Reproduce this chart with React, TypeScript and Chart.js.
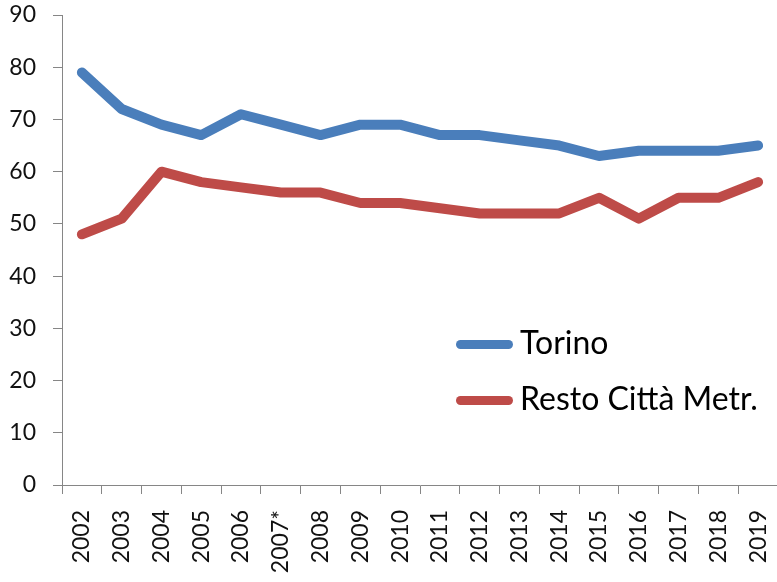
import React, { useEffect, useRef } from "react";
import { Chart, registerables } from "chart.js";

Chart.register(...registerables);

const years = [
  "2002", "2003", "2004", "2005", "2006", "2007*", "2008", "2009", "2010",
  "2011", "2012", "2013", "2014", "2015", "2016", "2017", "2018", "2019",
];
const torino = [79, 72, 69, 67, 71, 69, 67, 69, 69, 67, 67, 66, 65, 63, 64, 64, 64, 65];
const restoCittaMetr = [48, 51, 60, 58, 57, 56, 56, 54, 54, 53, 52, 52, 52, 55, 51, 55, 55, 58];
const seriesNames = ["Torino", "Resto Città Metr."];
const seriesColors = ["#4A7EBB", "#BE4B48"];
const yMin = 0;
const yMax = 90;
const yStep = 10;

const AXIS_COLOR = "#868686";
const TEXT_COLOR = "#111111";

export default function App() {
  const canvasRef = useRef<HTMLCanvasElement>(null);

  useEffect(() => {
    const canvas = canvasRef.current;
    if (!canvas) return;
    const seriesData = [torino, restoCittaMetr];
    const chart = new Chart(canvas, {
      type: "line",
      data: {
        labels: years,
        datasets: seriesNames.map((name, i) => ({
          label: name,
          data: seriesData[i],
          borderColor: seriesColors[i],
          backgroundColor: seriesColors[i],
          borderWidth: 10,
          borderCapStyle: "round" as const,
          borderJoinStyle: "round" as const,
          pointRadius: 0,
          pointHoverRadius: 0,
          tension: 0,
          fill: false,
        })),
      },
      options: {
        responsive: false,
        animation: false,
        devicePixelRatio: 1,
        layout: { padding: { left: 0, right: 0, top: 15, bottom: 0 } },
        plugins: {
          legend: { display: false },
          tooltip: { enabled: false },
        },
        scales: {
          x: {
            type: "category",
            offset: true,
            grid: {
              offset: true,
              drawOnChartArea: false,
              drawTicks: true,
              tickLength: 9,
              color: AXIS_COLOR,
              lineWidth: 1,
            },
            border: { display: true, color: AXIS_COLOR, width: 1 },
            ticks: {
              autoSkip: false,
              minRotation: 90,
              maxRotation: 90,
              padding: 16,
              color: TEXT_COLOR,
              font: { family: "Lato", size: 23 },
            },
            afterFit: (scale: any) => {
              scale.paddingLeft = 0;
              scale.paddingRight = 0;
              scale.height = 97;
            },
          },
          y: {
            min: yMin,
            max: yMax,
            grid: {
              drawOnChartArea: false,
              drawTicks: true,
              tickLength: 9,
              color: AXIS_COLOR,
              lineWidth: 1,
            },
            border: { display: true, color: AXIS_COLOR, width: 1 },
            ticks: {
              stepSize: yStep,
              padding: 17,
              color: TEXT_COLOR,
              font: { family: "Lato", size: 23 },
            },
            afterFit: (scale: any) => {
              scale.width = 62;
              scale.paddingTop = 0;
              scale.paddingBottom = 0;
            },
          },
        },
      },
    });
    return () => chart.destroy();
  }, []);

  const legendTops = [323, 379];

  return (
    <div
      style={{
        position: "absolute",
        left: 0,
        top: 0,
        width: 777,
        height: 582,
        overflow: "hidden",
        background: "#ffffff",
      }}
    >
      <canvas ref={canvasRef} width={778} height={582} style={{ display: "block" }} />
      {seriesNames.map((name, i) => (
        <div
          key={name}
          style={{
            position: "absolute",
            left: 456,
            top: legendTops[i],
            height: 38,
          }}
        >
          <div
            style={{
              position: "absolute",
              left: 0,
              top: 16.5,
              width: 57,
              height: 9,
              borderRadius: 4.5,
              background: seriesColors[i],
            }}
          />
          <span
            style={{
              position: "absolute",
              left: 64,
              top: 0,
              fontFamily: "Lato",
              fontSize: 32,
              lineHeight: "38.4px",
              color: "#000",
              whiteSpace: "nowrap",
            }}
          >
            {name}
          </span>
        </div>
      ))}
    </div>
  );
}
